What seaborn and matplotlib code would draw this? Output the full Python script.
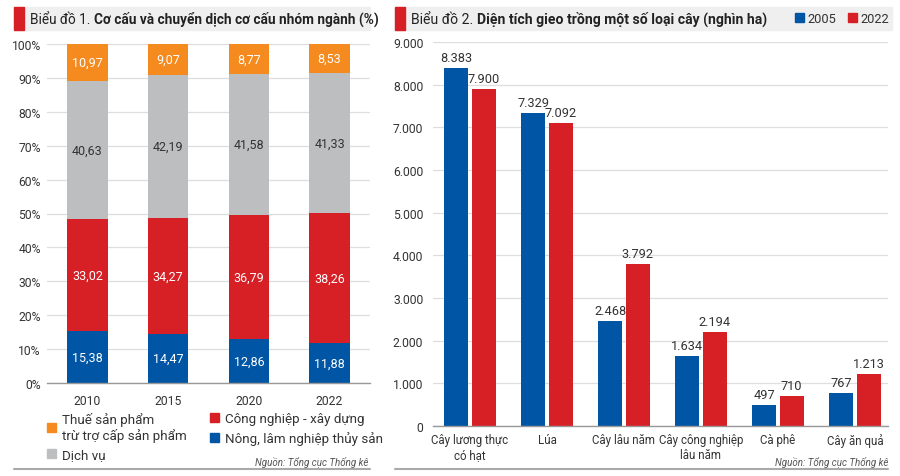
import matplotlib
matplotlib.use("Agg")
import matplotlib.pyplot as plt
from matplotlib.patches import Rectangle, Patch
from matplotlib.lines import Line2D
import seaborn as sns
import pandas as pd

# ---------------- data ----------------
years = ["2010", "2015", "2020", "2022"]
nong = [15.38, 14.47, 12.86, 11.88]
congnghiep = [33.02, 34.27, 36.79, 38.26]
dichvu = [40.63, 42.19, 41.58, 41.33]
thue = [10.97, 9.07, 8.77, 8.53]

crops = ["Cây lương thực\ncó hạt", "Lúa", "Cây lâu năm",
         "Cây công nghiệp\nlâu năm", "Cà phê", "Cây ăn quả"]
area_2005 = [8383, 7329, 2468, 1634, 497, 767]
area_2022 = [7900, 7092, 3792, 2194, 710, 1213]
year_labels = ["2005", "2022"]

legend1_col1 = ["Thuế sản phẩm\ntrừ trợ cấp sản phẩm", "Dịch vụ"]
legend1_col2 = ["Công nghiệp - xây dựng", "Nông, lâm nghiệp thủy sản"]
title1_a, title1_b = "Biểu đồ 1. ", "Cơ cấu và chuyển dịch cơ cấu nhóm ngành (%)"
title2_a, title2_b = "Biểu đồ 2. ", "Diện tích gieo trồng một số loại cây (nghìn ha)"
source = "Nguồn: Tổng cục Thống kê"

ORANGE = "#f58a1f"
GRAY = "#bdbec0"
RED = "#d71f26"
BLUE = "#0055a5"
TXT = "#333333"
GRID = "#dedede"

sns.set_theme(style="white")
plt.rcParams["font.family"] = ["Roboto", "DejaVu Sans"]

W, H = 900, 477
fig = plt.figure(figsize=(9, 4.77), dpi=100)


def fx(px):
    return px / W


def fy(py):
    return (H - py) / H


# ---------------- left chart ----------------
ax1 = fig.add_axes([fx(47), fy(384), fx(370) - fx(47), fy(45) - fy(384)])
stack_order = [nong, congnghiep, dichvu, thue]
colors_bottom_up = [BLUE, RED, GRAY, ORANGE]
tops = []
running = [0.0] * len(years)
for s in stack_order:
    running = [r + v for r, v in zip(running, s)]
    tops.append(list(running))
for top, col in reversed(list(zip(tops, colors_bottom_up))):
    sns.barplot(x=years, y=top, color=col, saturation=1, width=0.5,
                linewidth=0, ax=ax1, zorder=2)

bottoms = [0.0] * len(years)
for s, col in zip(stack_order, colors_bottom_up):
    for i, v in enumerate(s):
        c = TXT if col == GRAY else "white"
        ax1.text(i, bottoms[i] + v / 2, f"{v:.2f}".replace(".", ","),
                 ha="center", va="center", fontsize=9, color=c, zorder=3)
    bottoms = [b + v for b, v in zip(bottoms, s)]

ax1.set_ylim(0, 100)
ax1.set_xlim(-0.5, 3.5)
ax1.set_yticks(range(0, 101, 10))
ax1.set_yticklabels([f"{v}%" for v in range(0, 101, 10)])
ax1.yaxis.grid(True, color=GRID, lw=0.9)
ax1.set_axisbelow(True)
for sp in ["top", "right", "left"]:
    ax1.spines[sp].set_visible(False)
ax1.spines["bottom"].set_color("#999999")
ax1.spines["bottom"].set_linewidth(1.0)
ax1.tick_params(axis="y", length=0, pad=4.5, labelsize=8.7, labelcolor=TXT)
ax1.tick_params(axis="x", length=0, pad=8, labelsize=8.7, labelcolor=TXT)
ax1.set_xlabel("")
ax1.set_ylabel("")

# ---------------- right chart ----------------
ax2 = fig.add_axes([fx(433), fy(427), fx(888) - fx(433), fy(43) - fy(427)])
df2 = pd.DataFrame({
    "crop": crops * 2,
    "year": [year_labels[0]] * len(crops) + [year_labels[1]] * len(crops),
    "value": area_2005 + area_2022,
})
sns.barplot(data=df2, x="crop", y="value", hue="year", order=crops,
            hue_order=year_labels, palette=[BLUE, RED], saturation=1,
            width=0.71, gap=0.12, linewidth=0, legend=False, ax=ax2, zorder=2)
for cont in ax2.containers:
    vals = [b.get_height() for b in cont]
    ax2.bar_label(cont, labels=[f"{int(round(v)):,}".replace(",", ".") for v in vals],
                  padding=3, fontsize=9.2, color=TXT)

ax2.set_ylim(0, 9000)
ax2.set_xlim(-0.48, 5.43)
ax2.set_yticks(range(0, 9001, 1000))
ax2.set_yticklabels([f"{v:,}".replace(",", ".") for v in range(0, 9001, 1000)])
ax2.yaxis.grid(True, color=GRID, lw=0.9)
ax2.set_axisbelow(True)
for sp in ["top", "right", "left"]:
    ax2.spines[sp].set_visible(False)
ax2.spines["bottom"].set_color("#999999")
ax2.spines["bottom"].set_linewidth(1.0)
ax2.tick_params(axis="y", length=0, pad=7, labelsize=8.7, labelcolor=TXT)
ax2.tick_params(axis="x", length=0, pad=5, labelsize=8.3, labelcolor=TXT)
ax2.set_xlabel("")
ax2.set_ylabel("")

# ---------------- title bands ----------------
renderer = fig.canvas.get_renderer()


def title_band(x0, x1, ta, tb, fs):
    fig.patches.append(Rectangle((fx(x0), fy(31)), fx(x1) - fx(x0), fy(8) - fy(31),
                                 transform=fig.transFigure, color="#efefef", zorder=0))
    fig.patches.append(Rectangle((fx(x0), fy(31)), fx(10), fy(8) - fy(31),
                                 transform=fig.transFigure, color=RED, zorder=1))
    t1 = fig.text(fx(x0 + 16), fy(19.5), ta, ha="left", va="center",
                  fontsize=fs, color="#222222")
    bb = t1.get_window_extent(renderer=renderer)
    fig.text(bb.x1 / W, fy(19.5), tb, ha="left", va="center",
             fontsize=fs, fontweight="bold", color="#222222")


title_band(14, 370, title1_a, title1_b, 9.8)
title_band(395, 892, title2_a, title2_b, 10.1)

# legend in title band (right)
h2 = [Patch(color=BLUE), Patch(color=RED)]
fig.legend(h2, year_labels, loc="center right", bbox_to_anchor=(fx(889), fy(19.5)),
           ncol=2, frameon=False, fontsize=9.2, handlelength=0.7, handleheight=0.7,
           handletextpad=0.3, columnspacing=0.9, borderaxespad=0, borderpad=0,
           labelcolor=TXT)

# legend below left chart (two columns placed independently)
leg_kw = dict(loc="upper left", frameon=False, fontsize=9.6, handlelength=0.7,
              handleheight=0.7, handletextpad=0.45, labelspacing=0.45,
              borderaxespad=0, borderpad=0, labelcolor=TXT)
fig.legend([Patch(color=ORANGE), Patch(color=GRAY)], legend1_col1,
           bbox_to_anchor=(fx(47), fy(413)), **leg_kw)
fig.legend([Patch(color=RED), Patch(color=BLUE)], legend1_col2,
           bbox_to_anchor=(fx(210), fy(413)), **leg_kw)

# sources
for xr in (368, 888):
    fig.text(fx(xr), fy(463), source, ha="right", va="center", fontsize=7,
             style="italic", color="#555555")

# bottom rules
for a, b in [(14, 370), (395, 888)]:
    fig.lines.append(Line2D([fx(a), fx(b)], [fy(470), fy(470)],
                            transform=fig.transFigure, color="#aaaaaa", lw=1.5))

fig.savefig("out.png", dpi=100)
